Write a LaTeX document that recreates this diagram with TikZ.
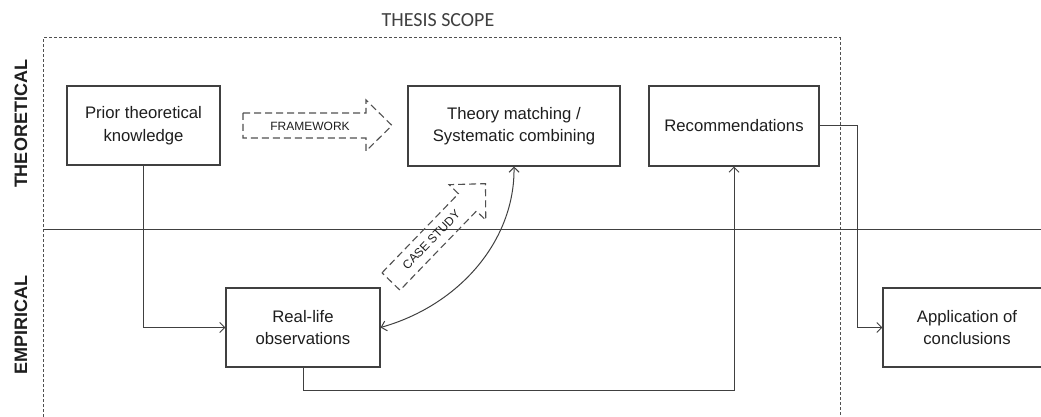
\documentclass[tikz,border=0pt]{standalone}
\usepackage{fontspec}
\setmainfont{Liberation Sans}
\newfontfamily\carl{Carlito}
\usetikzlibrary{arrows.meta}
\definecolor{boxgray}{HTML}{404040}
\definecolor{textblack}{HTML}{1E1E1E}
\definecolor{dashgray}{HTML}{505050}
\begin{document}
\begin{tikzpicture}[x=1pt,y=-1pt,
  box/.style={draw=boxgray, line width=1.1pt, align=center, text=textblack,
    font=\fontsize{16.7}{22.5}\selectfont, inner sep=0pt, minimum height=79pt},
  conn/.style={draw=boxgray, line width=1pt},
  tipend/.style={-{Straight Barb[length=5pt,width=10pt]}},
  bothend/.style={{Straight Barb[length=5pt,width=10pt]}-{Straight Barb[length=5pt,width=10pt]}},
  scopeline/.style={draw=dashgray, line width=1pt, dash pattern=on 3pt off 2pt},
  bigarrow/.style={draw=dashgray, line width=1.1pt, dash pattern=on 7pt off 4pt},
  smalllabel/.style={font=\fontsize{12}{12}\selectfont, text=textblack, inner sep=0pt},
  sidelabel/.style={font=\fontsize{18}{18}\selectfont\bfseries, text=textblack, rotate=90, inner sep=0pt}
]
\useasboundingbox (0,0) rectangle (1041,417);
\fill[white] (0,0) rectangle (1041,417);
\clip (0,0) rectangle (1041,417);

% scope
\node[font=\carl\fontsize{20}{20}\selectfont, text=boxgray, inner sep=0pt] (scopetitle) at (438,20) {THESIS SCOPE};
\draw[scopeline] (43,417) -- (43,38) -- (840,38) -- (840,417);

% divider
\draw[conn] (43,229) -- (1041,229);

% side labels
\node[sidelabel] (theolabel) at (21,124) {THEORETICAL};
\node[sidelabel] (emplabel) at (21,325) {EMPIRICAL};

% boxes
\node[box, minimum width=153pt] (prior) at (143.5,125.5) {Prior theoretical\\knowledge};
\node[box, minimum width=212pt, minimum height=80pt] (theory) at (514,126) {Theory matching /\\Systematic combining};
\node[box, minimum width=170pt, minimum height=80pt] (rec) at (734,126) {Recommendations};
\node[box, minimum width=154pt] (real) at (303,327.5) {Real-life\\observations};
\node[box, minimum width=168pt] (app) at (967,327.5) {Application of\\conclusions};

% connectors
\draw[conn, tipend] (prior.south) |- (real.west);
\coordinate (lowturn) at (303,390);
\draw[conn, tipend] (real.south) -- (lowturn) -| (rec.south);
\coordinate (rightturn) at (857,126);
\draw[conn, tipend] (rec.east) -- (rightturn) |- (app.west);
\draw[conn, bothend] (real.east) .. controls (460,305) and (515,240) .. (theory.south);

% FRAMEWORK arrow
\begin{scope}[shift={(243,125.5)}]
  \draw[bigarrow] (0,-12.5) -- (123,-12.5) -- (123,-25.5) -- (149,0) -- (123,25.5) -- (123,12.5) -- (0,12.5) -- cycle;
\end{scope}
\node[smalllabel] (fwlabel) at (310,126) {FRAMEWORK};

% CASE STUDY arrow
\begin{scope}[shift={(391,281.5)}, rotate=46]
  \draw[bigarrow] (0,-12.5) -- (110,-12.5) -- (110,-25.5) -- (136,0) -- (110,25.5) -- (110,12.5) -- (0,12.5) -- cycle;
  \node[smalllabel, rotate=46] (cslabel) at (58,0) {CASE STUDY};
\end{scope}
\end{tikzpicture}
\end{document}
